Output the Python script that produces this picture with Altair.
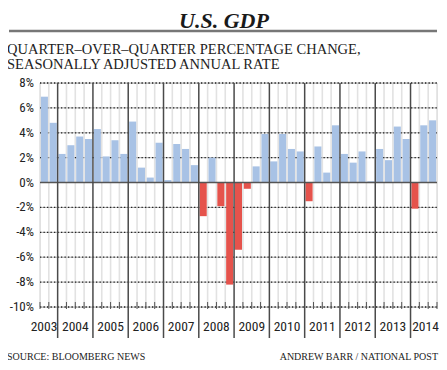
import altair as alt
import pandas as pd

# ---- data ----
quarters = (["2003 Q3", "2003 Q4"]
            + [f"{y} Q{q}" for y in range(2004, 2014) for q in range(1, 5)]
            + ["2014 Q1", "2014 Q2", "2014 Q3"])
gdp_change = [6.9, 4.8,
              2.3, 3.0, 3.7, 3.5,
              4.3, 2.1, 3.4, 2.3,
              4.9, 1.2, 0.4, 3.2,
              0.2, 3.1, 2.7, 1.4,
              -2.7, 2.0, -1.9, -8.2,
              -5.4, -0.5, 1.3, 3.9,
              1.7, 3.9, 2.7, 2.5,
              -1.5, 2.9, 0.8, 4.6,
              2.3, 1.6, 2.5, 0.1,
              2.7, 1.8, 4.5, 3.5,
              -2.1, 4.6, 5.0]
year_labels = ["2003", "2004", "2005", "2006", "2007", "2008",
               "2009", "2010", "2011", "2012", "2013", "2014"]
year_label_pos = [0.45, 4, 8, 12, 16, 20, 24, 28, 32, 36, 40, 43.7]
year_boundaries = [2, 6, 10, 14, 18, 22, 26, 30, 34, 38, 42]
y_ticks = [-10, -8, -6, -4, -2, 0, 2, 4, 6, 8]

n = len(quarters)
df = pd.DataFrame({
    "quarter": quarters,
    "value": gdp_change,
    "start": [i + 0.1 for i in range(n)],
    "end": [i + 0.9 for i in range(n)],
    "sign": ["neg" if v < 0 else "pos" for v in gdp_change],
})
qb = pd.DataFrame({"b": [i for i in range(n + 1) if i not in year_boundaries]})
yb = pd.DataFrame({"b": year_boundaries})
yl = pd.DataFrame({"label": year_labels, "pos": year_label_pos})
gl = pd.DataFrame({"g": [v for v in y_ticks if v != 0]})
ylab = pd.DataFrame({"v": y_ticks, "lab": [f"{v}%" for v in y_ticks]})

W, H = 397, 224
xs = alt.Scale(domain=[0, n], nice=False, zero=False)
ys = alt.Scale(domain=[-10, 8], nice=False, zero=False)

SANS = "Liberation Sans Narrow, Roboto Condensed, Liberation Sans, sans-serif"
SERIF = "Liberation Serif, Times New Roman, serif"

# light gray quarter stripes
stripes = alt.Chart(qb).mark_rule(color="#e2e2e2", strokeWidth=1.6).encode(
    x=alt.X("b:Q", scale=xs, axis=None),
    y=alt.value(0), y2=alt.value(H))

grid_base = alt.Chart(gl).mark_rule(color="#b5b5b5", strokeWidth=1).encode(
    y=alt.Y("g:Q", scale=ys, axis=None),
    x=alt.value(0), x2=alt.value(W))
grid = alt.Chart(gl).mark_rule(color="#222", strokeWidth=1.3, strokeDash=[1.3, 2.2],
                               strokeCap="butt").encode(
    y=alt.Y("g:Q", scale=ys, axis=None),
    x=alt.value(0), x2=alt.value(W))

ylabels = alt.Chart(ylab).mark_text(font=SANS, fontSize=13, color="#222",
                                     align="right", baseline="middle").encode(
    y=alt.Y("v:Q", scale=ys, axis=None), x=alt.value(-6), text="lab:N")

bars = alt.Chart(df).mark_bar().encode(
    x=alt.X("start:Q", scale=xs, axis=None),
    x2="end:Q",
    y=alt.Y("value:Q", scale=ys, axis=None),
    y2=alt.datum(0),
    color=alt.Color("sign:N", scale=alt.Scale(domain=["pos", "neg"],
                                              range=["#a8c2e5", "#e5534c"]),
                    legend=None),
)

zero = alt.Chart(pd.DataFrame({"z": [0]})).mark_rule(color="#555", strokeWidth=1.5).encode(
    y=alt.Y("z:Q", scale=ys, axis=None), x=alt.value(0), x2=alt.value(W))

year_lines = alt.Chart(yb).mark_rule(color="#4a4a4a", strokeWidth=1.5).encode(
    x=alt.X("b:Q", scale=xs, axis=None), y=alt.value(0), y2=alt.value(255))

qticks = alt.Chart(qb).mark_rule(color="#555", strokeWidth=1).encode(
    x=alt.X("b:Q", scale=xs, axis=None), y=alt.value(219), y2=alt.value(226))

year_text = alt.Chart(yl).mark_text(font=SANS, fontSize=13.5, color="#222",
                                     baseline="alphabetic").encode(
    x=alt.X("pos:Q", scale=xs, axis=None), y=alt.value(248), text="label:N")


def txt(s, x, y, size, align="left", font=SERIF, style="normal", weight="normal",
        color="#222", line_height=None):
    kw = dict(align=align, baseline="alphabetic", font=font, fontSize=size,
              fontStyle=style, fontWeight=weight, color=color, text=s)
    if line_height is not None:
        kw["lineHeight"] = line_height
    return alt.Chart(pd.DataFrame({"t": [0]})).mark_text(**kw).encode(
        x=alt.value(x), y=alt.value(y))


title = txt("U.S. GDP", 184, -55, 22, align="center", style="italic", weight="bold", color="#1a1a1a")
title_rule = alt.Chart(pd.DataFrame({"z": [0]})).mark_rule(color="#777", strokeWidth=2.5).encode(
    x=alt.value(-31), x2=alt.value(397), y=alt.value(-52))
subtitle = txt(["QUARTER–OVER–QUARTER PERCENTAGE CHANGE,",
                "SEASONALLY ADJUSTED ANNUAL RATE"], -33, -29, 14.5, line_height=14.5)
foot_l = txt("SOURCE: BLOOMBERG NEWS", -33, 277, 10)
foot_r = txt("ANDREW BARR / NATIONAL POST", 398, 277, 10, align="right")

chart = alt.layer(
    stripes, grid_base, grid, bars, zero, year_lines, qticks, ylabels, year_text,
    title, title_rule, subtitle, foot_l, foot_r
).properties(
    width=W, height=H,
    autosize=alt.AutoSizeParams(type="none"),
    padding={"left": 32, "top": 75, "right": 2, "bottom": 55},
).configure_view(stroke=None).configure(background="white")

chart.save("out.html", embed_options={"renderer": "svg", "actions": False})
